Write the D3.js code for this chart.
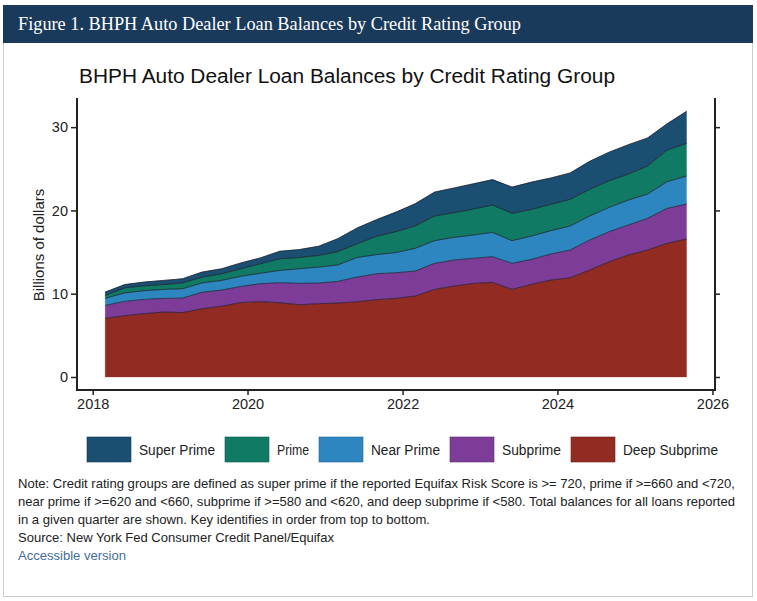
<!DOCTYPE html>
<html>
<head>
<meta charset="utf-8">
<script src="https://cdn.jsdelivr.net/npm/d3@7/dist/d3.min.js"></script>
<style>
  html, body { margin: 0; padding: 0; background: #ffffff; }
  svg { display: block; }
</style>
</head>
<body>
<svg id="chart" width="757" height="601"></svg>
<script>
// ---------------- DATA ----------------
const quarters = [
  "2018-03","2018-06","2018-09","2018-12",
  "2019-03","2019-06","2019-09","2019-12",
  "2020-03","2020-06","2020-09","2020-12",
  "2021-03","2021-06","2021-09","2021-12",
  "2022-03","2022-06","2022-09","2022-12",
  "2023-03","2023-06","2023-09","2023-12",
  "2024-03","2024-06","2024-09","2024-12",
  "2025-03","2025-06","2025-09"
];
// billions of dollars, per group
const deepSubprime = [7.04,7.36,7.60,7.80,7.74,8.20,8.50,8.95,9.04,8.92,8.68,8.80,8.88,9.04,9.28,9.44,9.72,10.52,10.92,11.24,11.36,10.52,11.12,11.64,11.92,12.84,13.84,14.65,15.25,16.05,16.57];
const subprime     = [1.56,1.72,1.72,1.64,1.74,1.98,1.94,1.93,2.16,2.40,2.57,2.48,2.60,2.96,3.12,3.08,3.00,3.13,3.13,3.01,3.09,3.13,3.01,3.13,3.33,3.61,3.61,3.60,3.80,4.20,4.20];
const nearPrime    = [0.85,1.02,1.04,1.08,1.12,1.12,1.16,1.22,1.25,1.48,1.75,1.92,1.97,2.35,2.30,2.43,2.73,2.72,2.72,2.80,2.92,2.72,2.80,2.80,2.88,2.88,2.92,3.00,2.92,3.20,3.36];
const prime        = [0.35,0.60,0.59,0.58,0.70,0.70,0.80,0.90,1.15,1.40,1.35,1.40,1.60,1.65,2.20,2.50,2.68,2.96,2.96,3.12,3.28,3.28,3.20,3.16,3.20,3.20,3.20,3.12,3.36,3.80,3.92];
const superPrime   = [0.40,0.40,0.45,0.50,0.50,0.60,0.60,0.70,0.70,0.90,0.95,1.10,1.55,1.90,2.00,2.35,2.67,2.87,2.97,3.03,3.05,3.15,3.27,3.17,3.17,3.37,3.43,3.53,3.37,3.15,3.85];

const legendNames = ["Super Prime","Prime","Near Prime","Subprime","Deep Subprime"];
const yTickValues = [0,10,20,30];
const xTickYears  = [2018,2020,2022,2024,2026];

const headerText = "Figure 1. BHPH Auto Dealer Loan Balances by Credit Rating Group";
const chartTitle = "BHPH Auto Dealer Loan Balances by Credit Rating Group";
const yLabel = "Billions of dollars";
const noteLines = [
  "Note: Credit rating groups are defined as super prime if the reported Equifax Risk Score is >= 720, prime if >=660 and <720,",
  "near prime if >=620 and <660, subprime if >=580 and <620, and deep subprime if <580. Total balances for all loans reported",
  "in a given quarter are shown. Key identifies in order from top to bottom.",
  "Source: New York Fed Consumer Credit Panel/Equifax"
];
const linkText = "Accessible version";

// ---------------- BUILD ----------------
const parseQ = d3.timeParse("%Y-%m");
const keys = ["deep","sub","near","prime","super"]; // bottom -> top
const colorOf = {
  "super": "#1B4F72", "prime": "#117A65", "near": "#2E86C1", "sub": "#7D3C98", "deep": "#922B21"
};
const legendKeys = ["super","prime","near","sub","deep"];

const table = quarters.map((q, i) => ({
  date: parseQ(q),
  deep: deepSubprime[i], sub: subprime[i], near: nearPrime[i], prime: prime[i], "super": superPrime[i]
}));

const svg = d3.select("#chart");
const sans = "'Liberation Sans', Arial, Helvetica, sans-serif";
const serif = "'Liberation Serif', 'Times New Roman', serif";

// frame
svg.append("rect").attr("x", 3.5).attr("y", 5.5).attr("width", 749).attr("height", 591)
  .attr("fill", "#fff").attr("stroke", "#c9cdd2").attr("stroke-width", 1);
svg.append("rect").attr("x", 3).attr("y", 5).attr("width", 750).attr("height", 38)
  .attr("fill", "#1a3a5c");
svg.append("text").attr("x", 18).attr("y", 30)
  .attr("font-family", serif).attr("font-size", 18).attr("fill", "#fff")
  .attr("textLength", 503).attr("lengthAdjust", "spacingAndGlyphs")
  .text(headerText);

// chart title
svg.append("text").attr("x", 79).attr("y", 83)
  .attr("font-family", sans).attr("font-size", 20).attr("fill", "#111")
  .attr("textLength", 536).attr("lengthAdjust", "spacingAndGlyphs")
  .text(chartTitle);

// scales
const x = d3.scaleTime()
  .domain([new Date(2017, 9, 19), new Date(2026, 0, 13)])
  .range([77, 715]);
const y = d3.scaleLinear().domain([-1.56, 33.5]).range([390, 98]);

const stack = d3.stack().keys(keys);
const layers = stack(table);

const area = d3.area()
  .x(d => x(d.data.date))
  .y0(d => y(d[0]))
  .y1(d => y(d[1]));
const line = d3.line()
  .x(d => x(d.data.date))
  .y(d => y(d[1]));

const plot = svg.append("g");
plot.selectAll("path.area").data(layers).join("path")
  .attr("class", "area")
  .attr("d", area)
  .attr("fill", d => colorOf[d.key])
  .attr("stroke", d => colorOf[d.key]).attr("stroke-width", 0.3);
plot.selectAll("path.edge").data(layers).join("path")
  .attr("class", "edge")
  .attr("d", line)
  .attr("fill", "none")
  .attr("stroke", "#15151f").attr("stroke-width", 0.7);

// axes
const axisColor = "#222";
const yAxis = d3.axisLeft(y).tickValues(yTickValues).tickSize(6).tickPadding(3).tickFormat(d3.format("d"));
const yAxisR = d3.axisRight(y).tickValues(yTickValues).tickSize(5).tickFormat("");
const xAxis = d3.axisBottom(x).tickValues(xTickYears.map(v => new Date(v, 0, 1))).tickSize(5).tickPadding(4)
  .tickFormat(d3.timeFormat("%Y"));

function styleAxis(g) {
  g.select(".domain").attr("stroke", axisColor).attr("stroke-width", 2);
  g.selectAll(".tick line").attr("stroke", axisColor).attr("stroke-width", 1.5);
  g.selectAll(".tick text").attr("fill", "#222").attr("font-family", sans).attr("font-size", 14.5);
}
const gy = svg.append("g").attr("transform", "translate(77,0)").call(yAxis).call(styleAxis);
gy.select(".domain").attr("d", "M0,390V98");
const gyR = svg.append("g").attr("transform", "translate(715,0)").call(yAxisR).call(styleAxis);
gyR.select(".domain").attr("d", "M0,390V98");
const gx = svg.append("g").attr("transform", "translate(0,390)").call(xAxis).call(styleAxis);
gx.select(".domain").attr("d", "M76,0H716");

// y label
svg.append("text")
  .attr("transform", "translate(44,245) rotate(-90)")
  .attr("text-anchor", "middle")
  .attr("font-family", sans).attr("font-size", 15).attr("fill", "#222")
  .text(yLabel);

// legend
const legendTextWidths = [76, 32, 69, 59, 95];
const lg = svg.append("g");
let lx = 87;
legendKeys.forEach((k, i) => {
  lg.append("rect").attr("x", lx).attr("y", 437).attr("width", 44).attr("height", 25)
    .attr("fill", colorOf[k]).attr("stroke", d3.color(colorOf[k]).darker(0.8)).attr("stroke-width", 0.6);
  lg.append("text").attr("x", lx + 52).attr("y", 455)
    .attr("font-family", sans).attr("font-size", 14).attr("fill", "#222")
    .attr("textLength", legendTextWidths[i]).attr("lengthAdjust", "spacingAndGlyphs")
    .text(legendNames[i]);
  lx = lx + 52 + legendTextWidths[i] + 10;
});

// notes
const noteWidths = [717, 717, 412, 316];
noteLines.forEach((s, i) => {
  svg.append("text").attr("x", 18).attr("y", 488 + i * 18)
    .attr("font-family", sans).attr("font-size", 13).attr("fill", "#222")
    .attr("textLength", noteWidths[i]).attr("lengthAdjust", "spacingAndGlyphs")
    .text(s);
});
svg.append("text").attr("x", 18).attr("y", 488 + 4 * 18)
  .attr("font-family", sans).attr("font-size", 13).attr("fill", "#3f6d9c")
  .attr("textLength", 108).attr("lengthAdjust", "spacingAndGlyphs")
  .text(linkText);
</script>
</body>
</html>
